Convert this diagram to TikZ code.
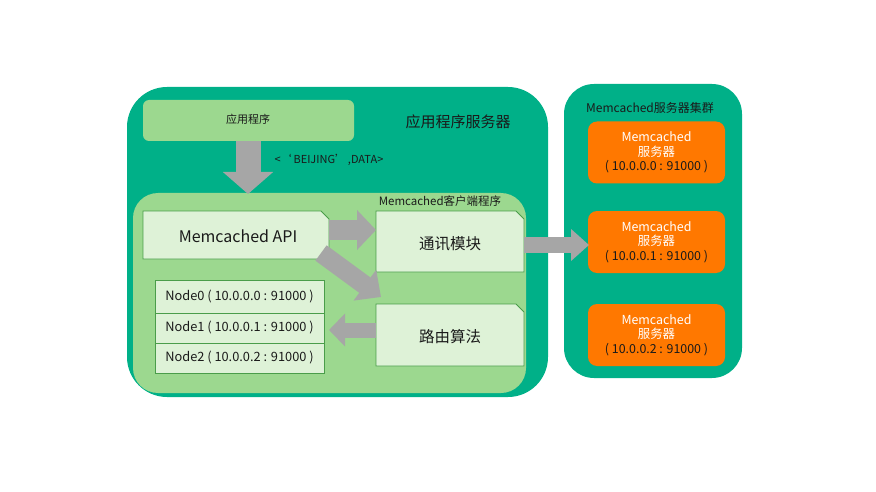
\documentclass[tikz,border=0pt]{standalone}
\usepackage{fontspec}
\setmainfont{Noto Sans CJK SC}
\usetikzlibrary{arrows.meta,calc}
\definecolor{tealbg}{HTML}{00B088}
\definecolor{lgreen}{HTML}{9CD88F}
\definecolor{boxfill}{HTML}{DEF2D7}
\definecolor{boxline}{HTML}{4A9D4A}
\definecolor{arrowgray}{HTML}{A6A6A6}
\definecolor{orangebox}{HTML}{FF7800}
\definecolor{txt}{HTML}{1A1A1A}
\tikzset{
  fs/.style={font=\fontsize{#1}{#1}\selectfont},
  lbl/.style={text=txt, inner sep=0pt},
  modbox/.style={fill=boxfill, draw=boxline, line width=0.8pt},
  blockarrow/.style={draw=arrowgray, line width=#1},
  orbox/.style={fill=orangebox, rounded corners=9pt},
}
\begin{document}
\begin{tikzpicture}[x=1pt,y=-1pt]
\useasboundingbox (0,0) rectangle (876,492);
% outer containers
\fill[tealbg, rounded corners=40pt] (127,87) rectangle (548,397);
\fill[tealbg, rounded corners=30pt] (564,84) rectangle (742,378);
% app program
\fill[lgreen, rounded corners=6pt] (143,100) rectangle (354,141);
\node[lbl, fs=11] (app) at (248,119) {应用程序};
\coordinate (appbot) at (248,141);
\node[lbl, fs=15] (srvlbl) at (458,122) {应用程序服务器};
% client box
\fill[lgreen, rounded corners=25pt] (133,193) rectangle (526,393);
\coordinate (clienttop) at (248,194);
\node[lbl, fs=11.5] (clilbl) at (440,201) {Memcached客户端程序};
\node[lbl, fs=11] (msg) at (329,160) {<‘\,BEIJING’\,,DATA>};
% module boxes
\draw[modbox] (143,211) -- (321,211) -- (329,219) -- (329,259) -- (143,259) -- cycle;
\node[lbl, fs=16] (api) at (238,236) {Memcached API};
\draw[modbox] (376,211) -- (516,211) -- (524,219) -- (524,272) -- (376,272) -- cycle;
\node[lbl, fs=15.5] (comm) at (450,244) {通讯模块};
\draw[modbox] (376,304) -- (516,304) -- (524,312) -- (524,366) -- (376,366) -- cycle;
\node[lbl, fs=15.5] (route) at (450,337) {路由算法};
% node table
\draw[modbox] (155,280) rectangle (324,313);
\draw[modbox] (155,313) rectangle (324,343);
\draw[modbox] (155,343) rectangle (324,373);
\node[lbl, fs=12.8] (n0) at (239.5,297) {Node0 ( 10.0.0.0 : 91000 )};
\node[lbl, fs=12.8] (n1) at (239.5,328) {Node1 ( 10.0.0.1 : 91000 )};
\node[lbl, fs=12.8] (n2) at (239.5,358) {Node2 ( 10.0.0.2 : 91000 )};
% cluster
\node[lbl, fs=12] (cluslbl) at (650,108) {Memcached服务器集群};
\foreach \y/\ip [count=\i from 0] in {152.5/0, 242/1, 335/2}{
  \fill[orbox] (588,\y-31) rectangle (725,\y+31);
  \node[inner sep=0pt, align=center, fs=12.4] (srv\i) at (656.5,\y) {\textcolor{white}{Memcached}\\[2.3pt]\textcolor{white}{服务器}\\[2.3pt]\textcolor{txt}{( 10.0.0.\ip\ : 91000 )}};
}
% anchor coordinates for block arrows
\coordinate (apiR) at (329,230);
\coordinate (commL) at (376,230);
\coordinate (apiD) at (321,253);
\coordinate (routeTL) at (381,297);
\coordinate (routeL) at (376,330);
\coordinate (tableR) at (329,330);
\coordinate (commR) at (524,245);
\coordinate (srv1L) at (589,245);
% block arrows
\draw[blockarrow=25pt, -{Triangle[width=49pt,length=22pt]}] (appbot) -- (clienttop);
\draw[blockarrow=20pt, -{Triangle[width=39pt,length=19pt]}] (apiR) -- (commL);
\draw[blockarrow=19pt, -{Triangle[width=37pt,length=20pt]}] (apiD) -- (routeTL);
\draw[blockarrow=15pt, -{Triangle[width=32pt,length=16pt]}] (routeL) -- (tableR);
\draw[blockarrow=16pt, -{Triangle[width=31pt,length=18pt]}] (commR) -- (srv1L);
\end{tikzpicture}
\end{document}
